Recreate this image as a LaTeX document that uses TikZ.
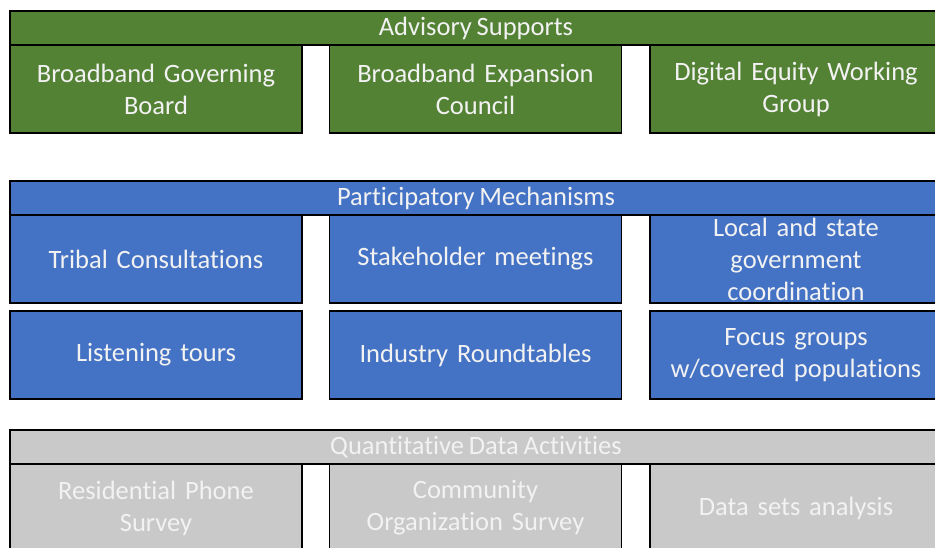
\documentclass[tikz,border=0pt]{standalone}
\usepackage{fontspec}
\setmainfont{Carlito}[WordSpace=0.8, Ligatures=NoCommon]

\definecolor{advgreen}{HTML}{548235}
\definecolor{partblue}{HTML}{4472C4}
\definecolor{quantgray}{HTML}{C9C9C9}
\definecolor{boxtext}{HTML}{F2F2F2}

\tikzset{
  block/.style={draw=black, line width=1.6pt, text=boxtext, align=center,
    inner sep=0pt, font=\fontsize{26.5}{32}\selectfont},
  headbar/.style={block, minimum width=932pt, minimum height=34pt},
  cell/.style={block, minimum width=292pt, minimum height=88pt, text width=288pt},
}

\begin{document}
\begin{tikzpicture}[x=1pt, y=-1pt]

        \useasboundingbox (0,0) rectangle (935,548);
        \fill[white] (0,0) rectangle (935,548);
        \clip (0,0) rectangle (935,548);

        % advisory supports
        \begin{scope}[every node/.style={fill=advgreen}]
          \node[headbar] (adv)  at (476,28) {Advisory Supports};
          \node[cell] (board)   at (156,89)   {Broadband Governing\\Board};
          \node[cell] (council) at (475.5,89) {Broadband Expansion\\Council};
          \node[cell] (equity)  at (796,89)   {Digital Equity Working\\Group};
        \end{scope}

        % participatory mechanisms
        \begin{scope}[every node/.style={fill=partblue}]
          \node[headbar] (part)  at (476,198) {Participatory Mechanisms};
          \node[cell] (tribal)   at (156,259)   {Tribal Consultations};
          \node[cell] (stake)    at (475.5,259) {Stakeholder meetings};
          \node[cell] (govcoord) at (796,259)   {Local and state\\government\\coordination};
          \node[cell] (listen)   at (156,355)   {Listening tours};
          \node[cell] (industry) at (475.5,355) {Industry Roundtables};
          \node[cell] (focus)    at (796,355)   {Focus groups\\w/covered populations};
        \end{scope}

        % quantitative data
        \begin{scope}[every node/.style={fill=quantgray}]
          \node[headbar] (quant) at (476,447) {Quantitative Data Activities};
          \node[cell] (phone)    at (156,508)   {Residential Phone\\Survey};
          \node[cell] (orgsurv)  at (475.5,508) {Community\\Organization Survey};
          \node[cell] (datasets) at (796,508)   {Data sets analysis};
        \end{scope}

      \end{tikzpicture}
\end{document}
